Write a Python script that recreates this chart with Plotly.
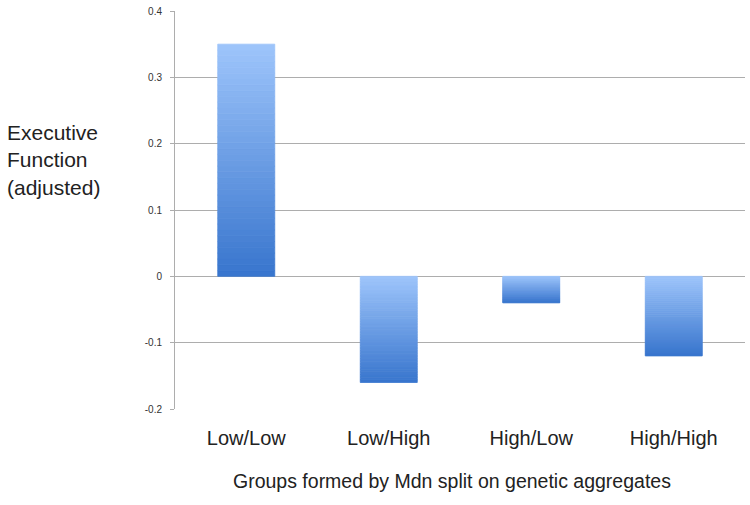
import plotly.graph_objects as go
import numpy as np

# data
grupos = ["Low/Low", "Low/High", "High/Low", "High/High"]
valores = [0.35, -0.16, -0.04, -0.12]
y_ticks = [0.4, 0.3, 0.2, 0.1, 0, -0.1, -0.2]
y_tick_text = ["0.4", "0.3", "0.2", "0.1", "0", "-0.1", "-0.2"]

# gradient: light at the top of each bar, darker at the bottom
claro = np.array([158, 197, 251])
oscuro = np.array([56, 117, 205])
n_slices = 40


def color_mix(t):
    c = claro * (1 - t) + oscuro * t
    return "rgb({},{},{})".format(*[int(round(v)) for v in c])


fig = go.Figure()

# each bar is split into thin stacked slices so it can carry a vertical gradient
for i in range(n_slices):
    colores = []
    for v in valores:
        if v >= 0:
            t = 1 - (i + 0.5) / n_slices   # slice 0 sits at the bottom
        else:
            t = (i + 0.5) / n_slices       # slice 0 sits just under zero
        colores.append(color_mix(t))
    fig.add_trace(go.Bar(
        x=grupos,
        y=[v / n_slices for v in valores],
        marker=dict(color=colores, line=dict(width=0.8, color=colores)),
        width=0.4,
        showlegend=False,
        hoverinfo="skip",
    ))

fig.update_layout(
    barmode="relative",
    bargap=0.6,
    width=750,
    height=505,
    margin=dict(l=175, r=5, t=8, b=96),
    plot_bgcolor="white",
    paper_bgcolor="white",
    font=dict(family="Liberation Sans, Arial, sans-serif", color="#222"),
)

fig.update_yaxes(
    range=[-0.2, 0.4],
    tickvals=y_ticks,
    ticktext=y_tick_text,
    tickfont=dict(size=10, color="#333"),
    showgrid=True,
    gridcolor="#adadad",
    gridwidth=1,
    zeroline=False,
    showline=True,
    linecolor="#adadad",
    ticks="outside",
    ticklen=4,
    tickcolor="#adadad",
    ticklabelstandoff=6,
)

fig.update_xaxes(
    tickfont=dict(size=20, color="#222"),
    showgrid=False,
    ticks="",
    ticklabelstandoff=15,
    showline=False,
)

fig.add_annotation(
    text="Groups formed by Mdn split on genetic aggregates",
    xref="paper", yref="paper",
    x=0.486, y=-0.182,
    xanchor="center", yanchor="middle",
    showarrow=False,
    font=dict(size=19.5, color="#222"),
)

fig.add_annotation(
    text="Executive<br>Function<br>(adjusted)",
    xref="paper", yref="paper",
    x=-0.298, y=0.626,
    xanchor="left", yanchor="middle",
    align="left",
    showarrow=False,
    font=dict(size=21, color="#222"),
)

# the page body has a default 8px margin; drop it so the figure sits at 0,0
fig.write_html("out.html", config={"displayModeBar": False},
               post_script="document.body.style.margin='0';")
